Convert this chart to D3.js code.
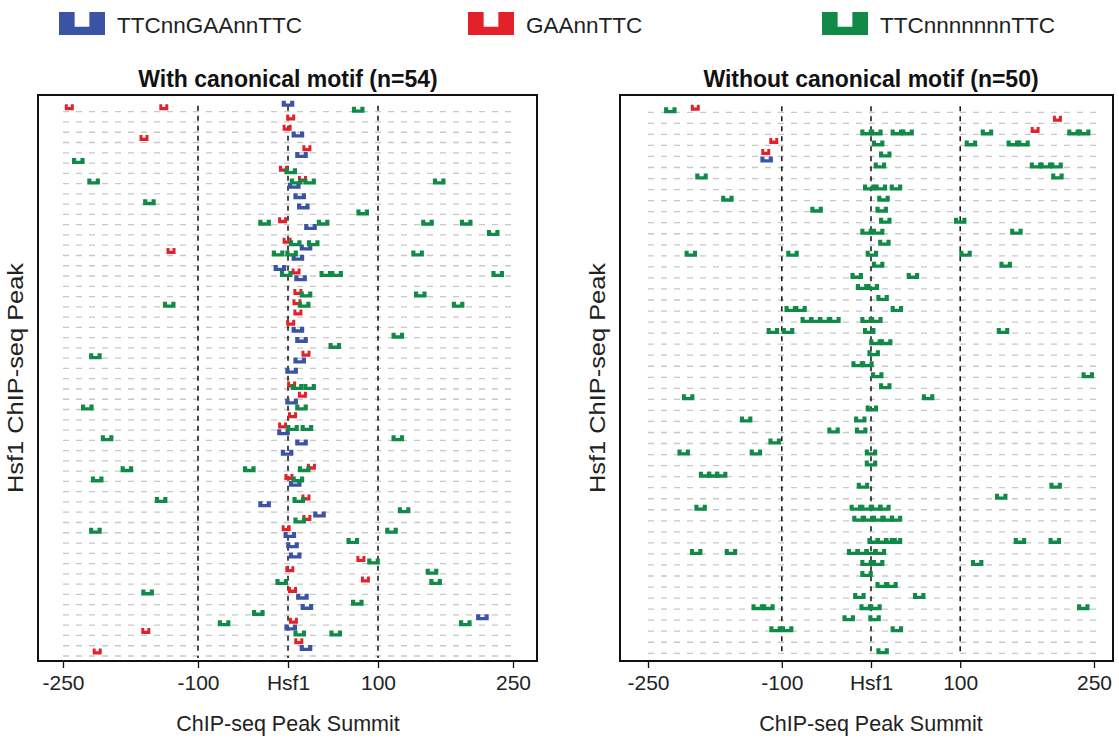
<!DOCTYPE html>
<html>
<head>
<script src="https://cdn.jsdelivr.net/npm/d3@7"></script>
<style>
  body{margin:0;background:#fff;font-family:"Liberation Sans",Arial,Helvetica,sans-serif;}
</style>
</head>
<body>
<div id="chart"></div>
<script>

var motifNames = ["TTCnnGAAnnTTC","GAAnnTTC","TTCnnnnnnnTTC"]
var motifColors = ["#3a53a4","#e4202a","#0f8b47"]
var tickValues = [-250,-100,0,100,250]
var tickLabels = ["-250","-100","Hsf1","100","250"]
var guideValues = [-100,0,100]
var panelTitles = ["With canonical motif (n=54)","Without canonical motif (n=50)"]

// [row, position of motif centre relative to the Hsf1 summit (bp)]
var leftBlue = [[0,0],[3,11],[5,15],[8,7],[9,13],[10,17],[12,25],[14,20],[15,11],[16,-9],[17,14],
  [22,11],[23,15],[25,13],[26,4],[29,4],[32,-5],[33,15],[34,-1],[37,8],[39,-26],[40,35],[42,2],
  [43,5],[44,8],[48,16],[49,21],[50,216],[51,3],[53,20]]
var leftRed = [[0,-243],[0,-138],[1,3],[2,-1],[3,-160],[4,21],[6,-5],[7,16],[11,-6],[13,-1],[14,-130],
  [16,9],[18,11],[19,10],[20,11],[21,3],[24,20],[27,4],[28,16],[30,5],[31,-6],[35,26],[36,1],
  [38,20],[40,21],[41,-2],[44,81],[45,2],[46,86],[47,5],[50,6],[51,-158],[52,12],[53,-212]]
var leftGreen = [[0,78],[5,-233],[6,3],[7,-216],[7,9],[7,24],[7,168],[9,-154],[10,83],[11,-26],[11,39],
  [11,155],[11,198],[12,228],[13,8],[13,28],[14,-11],[14,4],[14,144],[16,-2],[16,42],[16,54],[16,233],
  [18,20],[18,147],[19,-132],[19,18],[19,189],[22,122],[23,52],[24,-214],[27,10],[27,24],[29,-223],
  [29,15],[31,5],[31,21],[32,-201],[32,122],[35,-179],[35,-43],[35,18],[36,-212],[36,11],[38,-141],
  [38,12],[39,129],[40,13],[41,-214],[41,115],[42,72],[44,95],[45,160],[46,-7],[46,164],[47,-156],
  [48,77],[49,-33],[50,-71],[50,197],[51,13],[51,53]]

var rightBlue = [[5,-117]]
var rightRed = [[0,-197],[1,209],[2,184],[3,-109],[4,-118]]
var rightGreen = [[0,-225],[2,-5],[2,6],[2,29],[2,41],[2,130],[2,227],[2,239],[3,8],[3,112],[3,159],
  [3,171],[4,16],[5,10],[5,185],[5,196],[5,208],[6,-190],[6,209],[7,-2],[7,11],[7,28],[8,-161],[8,14],
  [9,-61],[9,12],[10,16],[10,100],[11,-5],[11,8],[11,163],[12,15],[13,-202],[13,-88],[13,1],[13,106],
  [14,8],[14,151],[15,-16],[15,47],[16,-10],[16,2],[17,13],[18,-90],[18,-79],[18,29],[19,-72],[19,-62],
  [19,-52],[19,-41],[19,-5],[19,6],[20,-110],[20,-93],[20,-2],[20,148],[21,5],[21,17],[22,3],[23,-15],
  [23,-4],[24,7],[24,243],[25,16],[26,-205],[26,64],[27,1],[28,-140],[28,-12],[29,-42],[29,-11],
  [30,-108],[31,-210],[31,-129],[31,0],[32,0],[33,-186],[33,-177],[33,-168],[34,-9],[34,207],[35,146],
  [36,-191],[36,-17],[36,-5],[36,6],[36,15],[37,-14],[37,-3],[37,8],[37,19],[37,28],[39,3],[39,12],
  [39,22],[39,28],[39,167],[39,206],[40,-196],[40,-157],[40,-20],[40,-10],[40,0],[40,10],[41,-5],
  [41,8],[41,119],[42,-5],[43,12],[43,23],[44,-13],[44,54],[45,-127],[45,-115],[45,-6],[45,5],
  [45,238],[46,-25],[46,4],[47,-107],[47,-94],[47,29],[49,13]]

var motifWidth = [14,10,14]     // drawn width in bp
var motifShift = [-8,-4.5,-2]   // vertical position of each motif type within a row

var svg = d3.select("#chart").append("svg")
  .attr("width",1119).attr("height",740)
  .style("font-family",'"Liberation Sans",Arial,Helvetica,sans-serif')

function uShape(x0,x1,top,h,arm,depth){
  var a = (x1-x0)*arm, d = h*depth
  return "M"+x0+","+top+"H"+(x0+a)+"V"+(top+d)+"H"+(x1-a)+"V"+top+"H"+x1+"V"+(top+h)+"H"+x0+"Z"
}

function drawPanel(p){
  var x = d3.scaleLinear().domain([-250,250]).range([p.xa,p.xb])
  var y = d3.scaleLinear().domain([0,p.n-1]).range([p.ya,p.yb])
  var g = svg.append("g")

  // row guides
  g.selectAll(".row").data(d3.range(p.n)).enter().append("line")
    .attr("x1",x(-250)).attr("x2",x(250)+2)
    .attr("y1",function(d){return y(d)}).attr("y2",function(d){return y(d)})
    .attr("stroke","#c8c8c8").attr("stroke-width",1.3).attr("stroke-dasharray","6,7")

  g.selectAll(".guide").data(guideValues).enter().append("line")
    .attr("x1",function(d){return x(d)}).attr("x2",function(d){return x(d)})
    .attr("y1",y(0)-6).attr("y2",y(p.n-1)+2)
    .attr("stroke","#111").attr("stroke-width",1.5).attr("stroke-dasharray","5,5")

  var sets = [p.blue,p.red,p.green]
  sets.forEach(function(set,t){
    g.selectAll(".m"+t).data(set).enter().append("path")
      .attr("d",function(d){
        var c = y(d[0])+motifShift[t]
        return uShape(x(d[1]-motifWidth[t]/2),x(d[1]+motifWidth[t]/2),c-3,6,0.33,0.45)
      })
      .attr("fill",motifColors[t])
  })

  g.append("rect").attr("x",p.bx).attr("y",95).attr("width",p.bw).attr("height",566)
    .attr("fill","none").attr("stroke","#111").attr("stroke-width",2)

  var axis = d3.axisBottom(x).tickValues(tickValues)
    .tickFormat(function(d,i){return tickLabels[i]}).tickSize(7).tickSizeOuter(0).tickPadding(7)
  var ax = g.append("g").attr("transform","translate(0,661)").call(axis)
  ax.select(".domain").remove()
  ax.selectAll("line").attr("stroke","#111").attr("stroke-width",1.3)
  ax.selectAll("text").attr("font-size",21).attr("fill","#222")
    .style("font-family",'"Liberation Sans",Arial,sans-serif')

  g.append("text").text(p.title).attr("x",x(0)).attr("y",87)
    .attr("text-anchor","middle").attr("font-size",23).attr("font-weight","bold").attr("fill","#111")
  g.append("text").text("ChIP-seq Peak Summit").attr("x",x(0)).attr("y",731)
    .attr("text-anchor","middle").attr("font-size",21.5).attr("fill","#222")
  g.append("text").text("Hsf1 ChIP-seq Peak")
    .attr("transform","translate("+(p.bx-15)+",378) rotate(-90)")
    .attr("text-anchor","middle").attr("font-size",22).attr("fill","#222")
    .attr("textLength",230).attr("lengthAdjust","spacingAndGlyphs")
}

drawPanel({xa:63,xb:513,n:54,ya:111.7,yb:656,bx:38,bw:499,title:panelTitles[0],
  blue:leftBlue,red:leftRed,green:leftGreen})
drawPanel({xa:648,xb:1094,n:50,ya:112.3,yb:653.3,bx:620,bw:493,title:panelTitles[1],
  blue:rightBlue,red:rightRed,green:rightGreen})

// legend
var legendX = [59,468,822]
var leg = svg.append("g")
motifNames.forEach(function(name,i){
  leg.append("path").attr("d",uShape(legendX[i],legendX[i]+46,12,23,0.34,0.64)).attr("fill",motifColors[i])
  leg.append("text").text(name).attr("x",legendX[i]+58).attr("y",33)
    .attr("font-size",22.5).attr("fill","#222")
})

</script>
</body>
</html>
